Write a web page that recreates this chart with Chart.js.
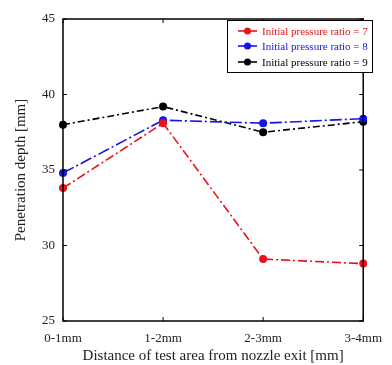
<!DOCTYPE html>
<html>
<head>
<meta charset="utf-8">
<script src="https://cdn.jsdelivr.net/npm/chart.js@4"></script>
<style>
	html, body { margin: 0; padding: 0; background: #fff; }
	#wrap { width: 392px; height: 365px; }
</style>
</head>
<body>
<div id="wrap"><canvas id="chart" width="392" height="365"></canvas></div>
<script>
const categories = ['0-1mm', '1-2mm', '2-3mm', '3-4mm'];
const ratio7 = [33.8, 38.1, 29.1, 28.8];
const ratio8 = [34.8, 38.3, 38.1, 38.4];
const ratio9 = [38.0, 39.2, 37.5, 38.2];
const seriesLabels = ['Initial pressure ratio = 7', 'Initial pressure ratio = 8', 'Initial pressure ratio = 9'];
const yTicks = [25, 30, 35, 40, 45];

const serif = '"Liberation Serif", "DejaVu Serif", serif';

function series(label, data, color, dash) {
	return {
		label: label,
		data: data,
		borderColor: color,
		backgroundColor: color,
		borderWidth: 1.6,
		borderDash: dash,
		pointRadius: 4,
		pointHoverRadius: 4,
		pointBorderWidth: 0,
		tension: 0
	};
}

// box frame, inward ticks, legend
const frame = {
	id: 'frame',
	afterDatasetsDraw(chart) {
		const ctx = chart.ctx;
		const a = chart.chartArea;
		const x = chart.scales.x;
		const y = chart.scales.y;
		ctx.save();
		ctx.strokeStyle = '#000';
		ctx.lineWidth = 1.5;
		ctx.strokeRect(a.left, a.top, a.right - a.left, a.bottom - a.top);
		ctx.lineWidth = 1;
		ctx.beginPath();
		categories.forEach((c, i) => {
			const px = x.getPixelForValue(i);
			ctx.moveTo(px, a.bottom); ctx.lineTo(px, a.bottom - 4);
			ctx.moveTo(px, a.top); ctx.lineTo(px, a.top + 4);
		});
		yTicks.forEach(v => {
			const py = y.getPixelForValue(v);
			ctx.moveTo(a.left, py); ctx.lineTo(a.left + 4, py);
			ctx.moveTo(a.right, py); ctx.lineTo(a.right - 4, py);
		});
		ctx.stroke();

		// legend
		const bx = 227, by = 20, bw = 145, bh = 52;
		ctx.fillStyle = '#fff';
		ctx.fillRect(bx, by, bw, bh);
		ctx.strokeStyle = '#000';
		ctx.lineWidth = 1;
		ctx.strokeRect(bx + 0.5, by + 0.5, bw, bh);
		const rows = [31, 46, 62];
		ctx.font = '11px ' + serif;
		ctx.textBaseline = 'middle';
		chart.data.datasets.forEach((ds, i) => {
			const ry = rows[i];
			ctx.strokeStyle = ds.borderColor;
			ctx.lineWidth = 1.6;
			ctx.beginPath();
			ctx.moveTo(238, ry); ctx.lineTo(257, ry);
			ctx.stroke();
			ctx.fillStyle = ds.borderColor;
			ctx.beginPath();
			ctx.arc(247.5, ry, 3.5, 0, Math.PI * 2);
			ctx.fill();
			ctx.fillText(ds.label, 262, ry + 1);
		});
		ctx.restore();
	}
};

new Chart(document.getElementById('chart'), {
	type: 'line',
	data: {
		labels: categories,
		datasets: [
			series(seriesLabels[0], ratio7, '#e8141c', [9, 3, 2, 3]),
			series(seriesLabels[1], ratio8, '#1414e6', [12, 3, 2, 3]),
			series(seriesLabels[2], ratio9, '#000000', [7, 3, 2, 3])
		]
	},
	options: {
		responsive: false,
		animation: false,
		layout: { padding: { top: 19, right: 21, left: 12, bottom: 0 } },
		plugins: {
			legend: { display: false },
			tooltip: { enabled: false }
		},
		scales: {
			x: {
				offset: false,
				grid: { display: false, drawTicks: false },
				border: { display: false },
				ticks: {
					color: '#222',
					font: { family: serif, size: 13 },
					padding: 10,
					maxRotation: 0,
					autoSkip: false
				},
				title: {
					display: true,
					text: 'Distance of test area from nozzle exit [mm]',
					color: '#222',
					font: { family: serif, size: 15 },
					padding: { top: 0, bottom: 0 }
				},
				afterFit(scale) { scale.height = 44; }
			},
			y: {
				min: 25,
				max: 45,
				afterBuildTicks(scale) { scale.ticks = yTicks.map(v => ({ value: v })); },
				grid: { display: false, drawTicks: false },
				border: { display: false },
				ticks: {
					color: '#222',
					font: { family: serif, size: 13 },
					padding: 8
				},
				title: {
					display: true,
					text: 'Penetration depth [mm]',
					color: '#222',
					font: { family: serif, size: 15 },
					padding: { top: 0, bottom: 0 }
				},
				afterFit(scale) { scale.width = 51; }
			}
		}
	},
	plugins: [frame]
});
</script>
</body>
</html>
